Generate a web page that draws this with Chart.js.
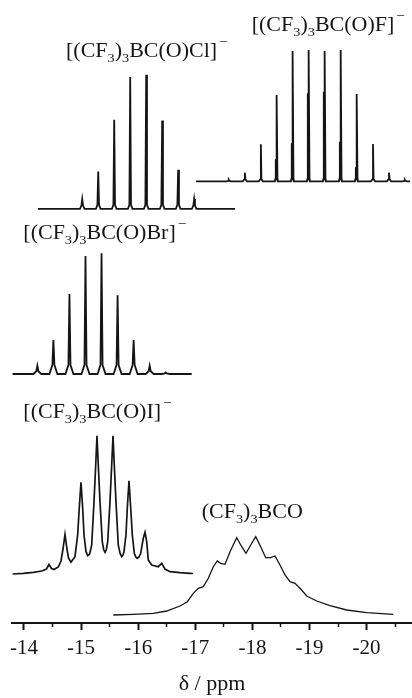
<!DOCTYPE html>
<html><head><meta charset="utf-8">
<script src="https://cdn.jsdelivr.net/npm/chart.js@4.4.0/dist/chart.umd.min.js"></script>
<style>html,body{margin:0;padding:0;background:#fff;}canvas{display:block;}</style>
</head><body>
<canvas id="c" width="412" height="698"></canvas>
<script>
// ---- axis ----
const majorTicks = [-14, -15, -16, -17, -18, -19, -20];
const minorTicks = [-14.5, -15.5, -16.5, -17.5, -18.5, -19.5, -20.5];
const axisTitle = 'δ / ppm';

// ---- spectrum labels (markup: _x subscript, ^x superscript) ----
const labelText = [
  '[(CF_3)_3BC(O)F]^−',
  '[(CF_3)_3BC(O)Cl]^−',
  '[(CF_3)_3BC(O)Br]^−',
  '[(CF_3)_3BC(O)I]^−',
  '(CF_3)_3BCO'
];

// ---- [(CF3)3BC(O)F]- : line positions (ppm) and heights ----
const fPpm = [-17.587, -17.868, -18.148, -18.429, -18.709, -18.990, -19.270, -19.551, -19.831, -20.112, -20.392, -20.670];
const fInt = [1.5, 8.6, 37.0, 86.3, 130.3, 131.3, 130.3, 131.3, 87.3, 37.3, 8.6, 1.5];
const f10Ppm = [-18.409, -18.689, -18.970, -19.250, -19.531, -19.811];
const f10Int = [22, 38, 88, 89.6, 39.6, 14];

// ---- [(CF3)3BC(O)Cl]- ----
const clPpm = [-15.02, -15.30, -15.58, -15.86, -16.14, -16.42, -16.70, -16.98];
const clInt = [9.7, 37.3, 89.0, 131.7, 134.0, 88.3, 39.0, 9.7];

// ---- [(CF3)3BC(O)Br]- ----
const brPpm = [-14.234, -14.515, -14.796, -15.077, -15.358, -15.639, -15.920, -16.201, -16.482];
const brInt = [8.3, 34.0, 80.0, 118.0, 120.7, 78.7, 34.0, 8.3, 1.5];

// ---- [(CF3)3BC(O)I]- : traced curve ----
const iPpm = [-13.80, -13.988, -14.163, -14.310, -14.394, -14.438, -14.482, -14.525, -14.601, -14.648,
  -14.683, -14.718, -14.753, -14.779, -14.823, -14.893, -14.940, -14.968, -14.998, -15.028,
  -15.051, -15.086, -15.116, -15.150, -15.186, -15.226, -15.256, -15.278, -15.301, -15.331,
  -15.371, -15.395, -15.419, -15.443, -15.466, -15.506, -15.536, -15.559, -15.581, -15.611,
  -15.651, -15.683, -15.711, -15.733, -15.751, -15.786, -15.809, -15.839, -15.869, -15.897,
  -15.932, -15.958, -15.984, -16.014, -16.044, -16.089, -16.119, -16.149, -16.177, -16.236,
  -16.352, -16.411, -16.469, -16.557, -16.732, -16.907, -16.960];
const iInt = [-0.5, 0.2, 1.2, 2.5, 4.5, 9.0, 5.0, 4.0, 6.5, 12.5,
  24.5, 39.0, 24.5, 15.5, 11.2, 16.8, 38.5, 65.5, 91.2, 65.2,
  38.5, 21.8, 17.8, 19.5, 28.5, 71.8, 108.5, 137.8, 108.5, 71.8,
  31.8, 24.0, 21.2, 24.0, 31.8, 71.8, 108.5, 137.8, 108.5, 71.8,
  28.5, 20.0, 16.8, 18.5, 21.8, 38.5, 65.2, 92.8, 65.2, 38.5,
  20.2, 16.5, 15.2, 16.5, 20.2, 35.2, 41.2, 31.8, 13.5, 8.5,
  6.8, 10.2, 4.5, 1.8, 0.8, 0.2, 0.0];

// ---- (CF3)3BCO : traced curve ----
const bcoPpm = [-15.564, -15.914, -16.264, -16.499, -16.732, -16.860, -16.965, -17.052, -17.140, -17.228,
  -17.315, -17.385, -17.445, -17.520, -17.608, -17.725, -17.813, -17.888, -17.970, -18.058,
  -18.145, -18.233, -18.320, -18.396, -18.483, -18.571, -18.659, -18.746, -18.834, -18.951,
  -19.126, -19.359, -19.651, -20.002, -20.468];
const bcoInt = [0.0, 0.7, 1.7, 4.0, 9.0, 13.3, 21.7, 26.7, 28.3, 36.7,
  48.3, 54.0, 51.7, 50.7, 63.3, 77.3, 68.3, 61.7, 70.0, 78.3,
  68.3, 57.3, 57.3, 59.0, 50.0, 40.0, 33.3, 31.7, 26.7, 19.0,
  14.0, 9.3, 5.0, 2.3, 0.7];

// ---- layout / style (not data) ----
const X_MIN = -20.795, X_MAX = -13.79;
const Y_MAX = 623;
const offsets = { F: 441.7, Cl: 414.2, Br: 249, I: 49.5, BCO: 8 };
const spans = { F: [-17.012, -20.76], Cl: [-14.245, -17.695], Br: [-13.80, -16.937] };
const labelPos = [[251.7, 31], [66, 56.7], [23.3, 239], [23.3, 418.3], [201.7, 518.3]];
const INK = '#151515';
const SERIF = '"Liberation Serif", "Times New Roman", serif';

function sticks(groups, base, span, w, fw, fh) {
  const pts = [{x: span[0], y: base}, {x: span[1], y: base}];
  groups.forEach(([pos, hgt]) => pos.forEach((p, i) => {
    const foot = base + Math.min(fh, hgt[i] / 3);
    pts.push({x: p + fw, y: base}, {x: p + w, y: foot}, {x: p, y: base + hgt[i]},
             {x: p - w, y: foot}, {x: p - fw, y: base});
  }));
  return pts.sort((a, b) => b.x - a.x);
}
function trace(xs, ys, base) { return xs.map((x, i) => ({x, y: base + ys[i]})); }

const ds = (data, bw) => ({data, borderColor: INK, borderWidth: bw, pointRadius: 0, tension: 0,
  fill: false, xAxisID: 'x', yAxisID: 'y'});

const labelPlugin = {
  id: 'specLabels',
  afterDatasetsDraw(chart) {
    const ctx = chart.ctx;
    labelText.forEach((txt, i) => {
      const parts = txt.match(/_.|\^.|[^_^]+/g);
      ctx.save();
      ctx.translate(labelPos[i][0], labelPos[i][1]);
      ctx.scale(1.1, 1);
      ctx.fillStyle = INK;
      ctx.textBaseline = 'alphabetic';
      let x = 0;
      parts.forEach(p => {
        let size = 20, dy = 0, t = p;
        if (p[0] === '_') { size = 13; dy = 5; t = p.slice(1); }
        else if (p[0] === '^') { size = 14; dy = -11; t = p.slice(1); x += 2; }
        ctx.font = size + 'px ' + SERIF;
        ctx.fillText(t, x, dy);
        x += ctx.measureText(t).width;
      });
      ctx.restore();
    });
  }
};

new Chart(document.getElementById('c'), {
  type: 'line',
  data: {
    datasets: [
      ds(sticks([[fPpm, fInt], [f10Ppm, f10Int]], offsets.F, spans.F, 0.010, 0.035, 2), 1.8),
      ds(sticks([[clPpm, clInt]], offsets.Cl, spans.Cl, 0.014, 0.04, 4), 1.8),
      ds(sticks([[brPpm, brInt]], offsets.Br, spans.Br, 0.018, 0.07, 9), 1.8),
      ds(trace(iPpm, iInt, offsets.I), 1.7),
      ds(trace(bcoPpm, bcoInt, offsets.BCO), 1.3)
    ]
  },
  options: {
    responsive: false,
    animation: false,
    devicePixelRatio: 1,
    layout: { padding: { left: 12, right: 0, top: 0, bottom: 0 } },
    plugins: { legend: { display: false }, tooltip: { enabled: false } },
    scales: {
      x: {
        type: 'linear', position: 'bottom', min: X_MIN, max: X_MAX, reverse: true, weight: 1,
        afterBuildTicks: s => { s.ticks = majorTicks.map(v => ({value: v})); },
        afterFit: s => { s.height = 75; },
        grid: { drawOnChartArea: false, drawTicks: true, tickLength: 7, tickWidth: 2, tickColor: INK },
        border: { display: true, width: 2, color: INK },
        ticks: { font: { family: SERIF, size: 21 }, color: INK, padding: 6, maxRotation: 0, autoSkip: false,
                 callback: v => String(v) },
        title: { display: true, text: axisTitle, font: { family: SERIF, size: 22 }, color: INK,
                 padding: { top: 0, bottom: 1 } }
      },
      x2: {
        type: 'linear', position: 'bottom', min: X_MIN, max: X_MAX, reverse: true, weight: 0,
        afterBuildTicks: s => { s.ticks = minorTicks.map(v => ({value: v})); },
        afterFit: s => { s.height = 0; },
        grid: { drawOnChartArea: false, drawTicks: true, tickLength: 4, tickWidth: 1.5, tickColor: INK },
        border: { display: false },
        ticks: { display: false }
      },
      y: { display: false, min: 0, max: Y_MAX }
    }
  },
  plugins: [labelPlugin]
});
</script>
</body></html>
